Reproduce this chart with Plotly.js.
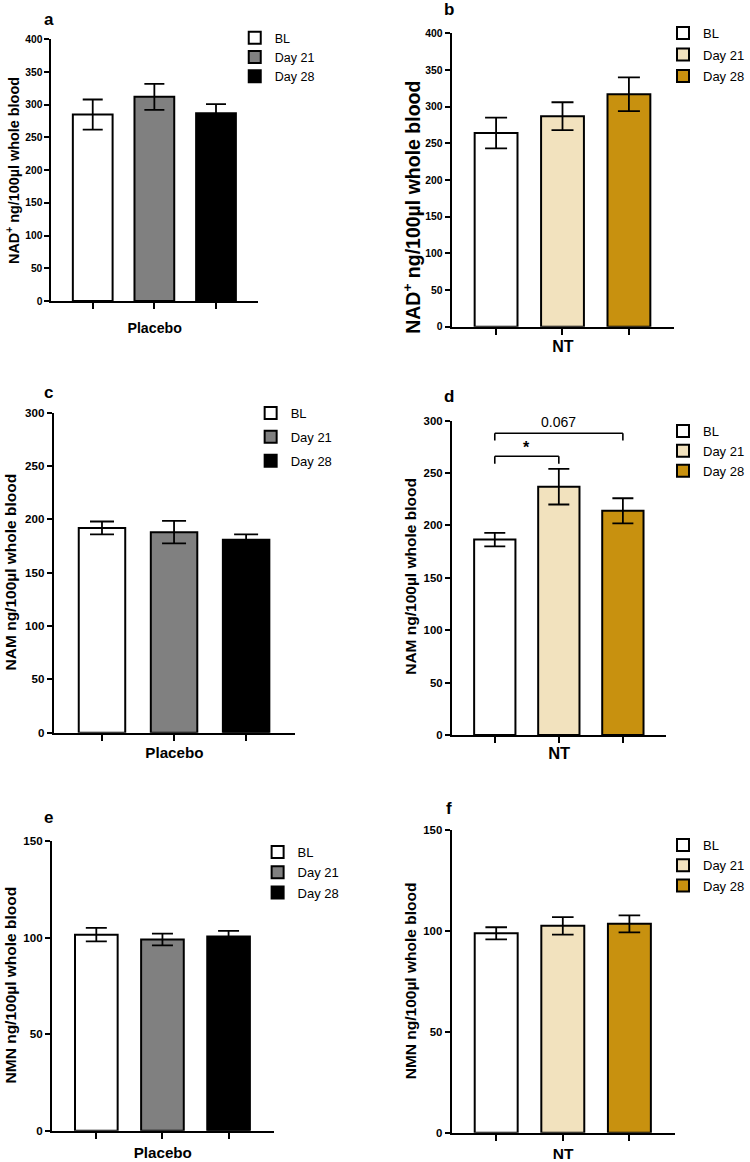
<!DOCTYPE html>
<html><head><meta charset="utf-8">
<script src="https://cdn.plot.ly/plotly-3.0.1.min.js"></script>
<style>html,body{margin:0;padding:0;background:#fff}#chart{width:750px;height:1162px}</style>
</head><body><div id="chart"></div>
<script>
// ---- data ----
const groups = ['BL', 'Day 21', 'Day 28'];
const nadPlacebo = [285, 312, 287];
const nadPlaceboErr = [23, 20, 14];
const nadNT = [264, 287, 317];
const nadNTErr = [21, 19, 23];
const namPlacebo = [192, 188, 181];
const namPlaceboErr = [6, 10.5, 5];
const namNT = [186.5, 237, 214];
const namNTErr = [6.5, 17, 12];
const nmnPlacebo = [101.5, 99, 100.5];
const nmnPlaceboErr = [3.5, 3, 3];
const nmnNT = [98.8, 102.5, 103.5];
const nmnNTErr = [3, 4.3, 4.2];
const placeboColors = ['#ffffff', '#808080', '#000000'];
const ntColors = ['#ffffff', '#f2e2be', '#c8910f'];
const namNTSig = [[0, 1, '*'], [0, 2, '0.067']];

// ---- layout helpers ----
const W = 750, H = 1162;
const FONT = 'Arial, "Liberation Sans", sans-serif';
const px = v => v / W, py = v => 1 - v / H;

const panels = [
  {letter:'a', vals:nadPlacebo, err:nadPlaceboErr, colors:placeboColors, xTitle:'Placebo', yTitle:'NAD<sup>+</sup> ng/100µl whole blood', yMax:400,
   box:[51.7,259.3,301,39.3], leg:[236,23,12.5,0], errW:10, tickFs:10.3, yT:[13,170,14.4], xTitleFs:14.2, xStand:15, lab:[49,19]},
  {letter:'b', vals:nadNT, err:nadNTErr, colors:ntColors, xTitle:'NT', yTitle:'NAD<sup>+</sup> ng/100µl whole blood', yMax:400,
   box:[454,677.7,326.7,33.3], leg:[667,18,13,1.6], errW:11, tickFs:10.4, yT:[414,207,19.5], xTitleFs:16, xStand:7, lab:[451,10]},
  {letter:'c', vals:namPlacebo, err:namPlaceboErr, colors:placeboColors, xTitle:'Placebo', yTitle:'NAM ng/100µl whole blood', yMax:300,
   box:[54,296.7,732.7,412.7], leg:[252,398,13,4], errW:12, tickFs:11.6, yT:[11,571.5,15.5], xTitleFs:15.2, xStand:8, lab:[49,392]},
  {letter:'d', vals:namNT, err:namNTErr, colors:ntColors, xTitle:'NT', yTitle:'NAM ng/100µl whole blood', yMax:300,
   box:[454.3,670,735,420.7], leg:[667,416,13,0], errW:10.5, tickFs:11.4, yT:[412.5,576.5,15.5], xTitleFs:16.5, xStand:5, lab:[451,397]},
  {letter:'e', vals:nmnPlacebo, err:nmnPlaceboErr, colors:placeboColors, xTitle:'Placebo', yTitle:'NMN ng/100µl whole blood', yMax:150,
   box:[52.3,275,1130.7,841], leg:[259,837,13,0.4], errW:10.5, tickFs:11.6, yT:[10.5,985,15.5], xTitleFs:15.2, xStand:10, lab:[49,818]},
  {letter:'f', vals:nmnNT, err:nmnNTErr, colors:ntColors, xTitle:'NT', yTitle:'NMN ng/100µl whole blood', yMax:150,
   box:[454,678.3,1132.7,830], leg:[667,830,13,0.4], errW:10.8, tickFs:11.4, yT:[412.5,981,15.5], xTitleFs:15.5, xStand:11, lab:[451,808]}
];

const data = [];
const layout = {
  width: W, height: H, margin: {l:0, r:0, t:0, b:0},
  paper_bgcolor: '#fff', plot_bgcolor: '#fff',
  font: {family: FONT, color: '#000'},
  barmode: 'overlay', showlegend: true,
  annotations: [], shapes: []
};

panels.forEach((p, i) => {
  const n = i === 0 ? '' : String(i + 1);
  const legKey = 'legend' + n;
  p.vals.forEach((v, k) => {
    data.push({
      type: 'bar', x: [groups[k]], y: [v], name: groups[k],
      xaxis: 'x' + n, yaxis: 'y' + n, legend: legKey, legendgroup: 'g' + k,
      width: 0.645,
      marker: {color: p.colors[k], line: {color: '#000', width: 2}},
      error_y: {type: 'data', array: [p.err[k]], visible: true, color: '#000', thickness: 1.8, width: p.errW},
      hoverinfo: 'y'
    });
  });
  const [x0, x1, y0, y1] = p.box;
  layout['xaxis' + n] = {
    domain: [px(x0), px(x1)], anchor: 'y' + n, type: 'category',
    categoryorder: 'array', categoryarray: groups,
    range: [-0.67, 2.68], showline: true, linecolor: '#000', linewidth: 2,
    ticks: 'outside', ticklen: 6, tickwidth: 2, tickcolor: '#000',
    showticklabels: false, showgrid: false, zeroline: false, fixedrange: true,
    title: {text: p.xTitle, font: {size: p.xTitleFs, weight: 'bold'}, standoff: p.xStand}
  };
  layout['yaxis' + n] = {
    domain: [py(y0), py(y1)], anchor: 'x' + n, range: [0, p.yMax], dtick: 50,
    showline: true, linecolor: '#000', linewidth: 2,
    ticks: 'outside', ticklen: 5, tickwidth: 2, tickcolor: '#000',
    tickfont: {size: p.tickFs, weight: 'bold'},
    showgrid: false, zeroline: false, fixedrange: true
  };
  // y-axis title (placed as rotated text beside the axis)
  layout.annotations.push({
    text: '<b>' + p.yTitle + '</b>', xref: 'paper', yref: 'paper',
    x: px(p.yT[0]), y: py(p.yT[1]), xanchor: 'center', yanchor: 'middle',
    textangle: -90, showarrow: false, font: {size: p.yT[2], family: FONT}
  });
  const [lx, ly, lfs, lgap] = p.leg;
  layout[legKey] = {
    x: px(lx), y: py(ly), xanchor: 'left', yanchor: 'top',
    xref: 'paper', yref: 'paper', bgcolor: 'rgba(0,0,0,0)', borderwidth: 0,
    font: {size: lfs, family: FONT}, traceorder: 'grouped', tracegroupgap: lgap,
    itemclick: false, itemdoubleclick: false
  };
  layout.annotations.push({
    text: '<b>' + p.letter + '</b>', xref: 'paper', yref: 'paper',
    x: px(p.lab[0]), y: py(p.lab[1]), xanchor: 'center', yanchor: 'middle',
    showarrow: false, font: {size: 17, family: FONT}
  });
});

// significance brackets on panel d (NAM, NT)
(function () {
  const p = panels[3];
  const tops = p.vals.map((v, k) => v + p.err[k]);
  namNTSig.forEach(([a, b, label], j) => {
    const level = Math.max(...tops.slice(a, b + 1)) + 12 + j * 22;
    const drop = 7;
    const ref = {xref: 'x4', yref: 'y4'};
    const line = {color: '#000', width: 1.6};
    layout.shapes.push(Object.assign({type: 'line', x0: groups[a], x1: groups[b], y0: level, y1: level, line}, ref));
    layout.shapes.push(Object.assign({type: 'line', x0: groups[a], x1: groups[a], y0: level - drop, y1: level, line}, ref));
    layout.shapes.push(Object.assign({type: 'line', x0: groups[b], x1: groups[b], y0: level - drop, y1: level, line}, ref));
    const isStar = label === '*';
    layout.annotations.push({
      text: isStar ? '<b>*</b>' : label, xref: 'x4', yref: 'y4',
      x: (a + b) / 2, y: level + (isStar ? 8 : 11), showarrow: false,
      xanchor: 'center', yanchor: 'middle',
      font: {size: isStar ? 16 : 14, family: FONT}
    });
  });
})();

Plotly.newPlot('chart', data, layout, {staticPlot: true, displayModeBar: false});
</script>
</body></html>
